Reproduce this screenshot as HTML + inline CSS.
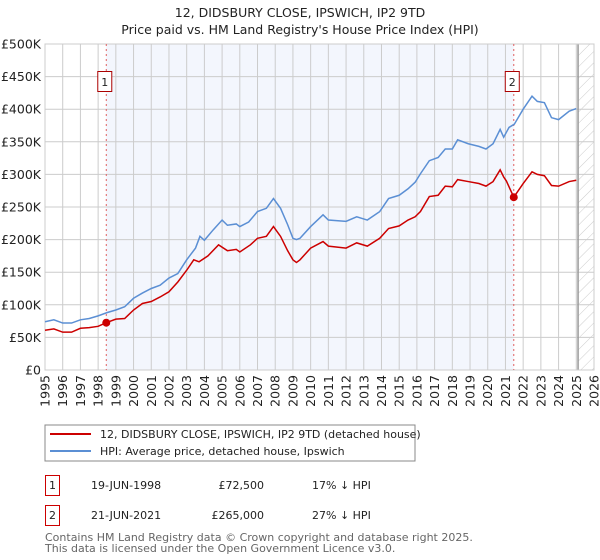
<!DOCTYPE html>
<html><head><meta charset="utf-8"><style>
body{margin:0;background:#fff;}
svg{display:block;font-family:"DejaVu Sans","Liberation Sans",sans-serif;}
</style></head><body>
<svg id="chart" width="600" height="560" viewBox="0 0 600 560" xmlns="http://www.w3.org/2000/svg">
<defs><pattern id="hatch" width="8" height="8" patternUnits="userSpaceOnUse" patternTransform="rotate(45)"><line x1="0" y1="0" x2="0" y2="8" stroke="#ccc" stroke-width="1"/></pattern></defs>
<text x="300" y="17" text-anchor="middle" font-size="12.5" fill="#222">12, DIDSBURY CLOSE, IPSWICH, IP2 9TD</text>
<text x="300" y="34" text-anchor="middle" font-size="12.5" fill="#222">Price paid vs. HM Land Registry's House Price Index (HPI)</text>
<g id="plot"></g>
<g>
<rect x="45" y="425" width="370" height="36" fill="#fff" stroke="#888"/>
<line x1="50" y1="434" x2="91" y2="434" stroke="#cc0000" stroke-width="2"/>
<text x="100" y="438" font-size="11" fill="#222">12, DIDSBURY CLOSE, IPSWICH, IP2 9TD (detached house)</text>
<line x1="50" y1="451" x2="91" y2="451" stroke="#5b8fd4" stroke-width="2"/>
<text x="100" y="455" font-size="11" fill="#222">HPI: Average price, detached house, Ipswich</text>
</g>
<g font-size="11" fill="#222">
<rect x="45.5" y="475.5" width="14" height="20" fill="#fff" stroke="#cc0000"/>
<text x="52.5" y="489" text-anchor="middle">1</text>
<text x="91" y="489">19-JUN-1998</text>
<text x="264" y="489" text-anchor="end">£72,500</text>
<text x="312" y="489">17% ↓ HPI</text>
<rect x="45.5" y="505.5" width="14" height="20" fill="#fff" stroke="#cc0000"/>
<text x="52.5" y="519" text-anchor="middle">2</text>
<text x="91" y="519">21-JUN-2021</text>
<text x="264" y="519" text-anchor="end">£265,000</text>
<text x="312" y="519">27% ↓ HPI</text>
</g>
<text x="45" y="541" font-size="11" fill="#666">Contains HM Land Registry data © Crown copyright and database right 2025.</text>
<text x="45" y="552" font-size="11" fill="#666">This data is licensed under the Open Government Licence v3.0.</text>
</svg>
<script>
const hpiYears=[1995,1995.5,1996,1996.5,1997,1997.5,1998,1998.5,1999,1999.5,2000,2000.5,2001,2001.5,2002,2002.5,2003,2003.5,2003.75,2004,2004.5,2005,2005.3,2005.8,2006,2006.5,2007,2007.5,2007.9,2008.3,2008.7,2009,2009.2,2009.4,2010,2010.7,2011,2012,2012.6,2013.2,2013.9,2014.4,2015,2015.5,2015.9,2016.2,2016.7,2017.2,2017.6,2018,2018.3,2018.9,2019.5,2019.9,2020.3,2020.7,2020.9,2021.2,2021.5,2022,2022.5,2022.8,2023.2,2023.6,2024,2024.6,2025];
const hpiValues=[74,77,72,72,77,79,83,88,92,97,110,118,125,130,141,148,169,187,205,199,215,230,222,224,220,227,243,248,263,248,223,202,200,202,220,238,230,228,235,230,243,263,268,278,288,301,321,326,339,339,353,347,343,339,347,369,357,372,377,400,420,412,410,387,384,397,401];
const propYears=[1995,1995.5,1996,1996.5,1997,1997.5,1998,1998.46,1999,1999.5,2000,2000.5,2001,2001.5,2002,2002.5,2003,2003.4,2003.7,2004.2,2004.8,2005.3,2005.8,2006,2006.6,2007,2007.5,2007.9,2008.3,2008.7,2009,2009.2,2009.4,2010,2010.7,2011,2012,2012.6,2013.2,2013.9,2014.4,2015,2015.5,2015.9,2016.2,2016.7,2017.2,2017.6,2018,2018.3,2018.9,2019.5,2019.9,2020.3,2020.7,2020.9,2021.05,2021.47,2022,2022.5,2022.8,2023.2,2023.6,2024,2024.6,2025];
const propValues=[61,63,58,58,64,65,67,72.5,78,79,92,102,105,112,120,135,153,169,166,175,192,183,185,181,192,202,205,220,205,183,169,165,169,187,197,190,187,195,190,202,217,221,230,235,243,266,268,282,281,292,289,286,282,289,307,296,290,265,286,304,300,298,283,282,289,291];
const saleYears=[1998.46,2021.47];
const saleValues=[72.5,265];
const saleLabels=["1","2"];
const yTicks=[0,50,100,150,200,250,300,350,400,450,500];
const yTickLabels=["£0","£50K","£100K","£150K","£200K","£250K","£300K","£350K","£400K","£450K","£500K"];
const xTicks=[1995,1996,1997,1998,1999,2000,2001,2002,2003,2004,2005,2006,2007,2008,2009,2010,2011,2012,2013,2014,2015,2016,2017,2018,2019,2020,2021,2022,2023,2024,2025,2026];

const X0=45,X1=594,Y0=370,Y1=44;
const xs=y=>X0+(y-1995)/(2026-1995)*(X1-X0);
const ys=v=>Y0-v/500*(Y0-Y1);
const NS="http://www.w3.org/2000/svg";
const g=document.getElementById('plot');
function mk(t,a){const e=document.createElementNS(NS,t);for(const k in a)e.setAttribute(k,a[k]);g.appendChild(e);return e;}
const shade=mk('rect',{x:xs(saleYears[0]),y:Y1,width:xs(saleYears[1])-xs(saleYears[0]),height:Y0-Y1,fill:'#f3f6fd'});


const hat=mk('rect',{x:xs(2025.1),y:Y1,width:X1-xs(2025.1),height:Y0-Y1,fill:'url(#hatch)'});


yTicks.forEach((v,i)=>{
 const l=mk('line',{x1:X0,x2:X1,y1:ys(v),y2:ys(v),stroke:'#ccc','stroke-width':1});
 
 
 const t=mk('text',{x:X0-4,y:ys(v)+4.5,'text-anchor':'end','font-size':12.5,fill:'#222'});
 t.textContent=yTickLabels[i];
 
 
});
xTicks.forEach(yr=>{
 const l=mk('line',{x1:xs(yr),x2:xs(yr),y1:Y1,y2:Y0,stroke:'#ccc','stroke-width':1});
 
 
 const t=mk('text',{x:0,y:0,'text-anchor':'end','font-size':12.5,fill:'#222',transform:`translate(${xs(yr)+4.5},${Y0+5}) rotate(-90)`});
 t.textContent=yr;
 
 
});
const fl=mk('line',{x1:xs(2025.1),x2:xs(2025.1),y1:Y1,y2:Y0,stroke:'#999','stroke-width':1.5});


const fr=mk('rect',{x:X0,y:Y1,width:X1-X0,height:Y0-Y1,fill:'none',stroke:'#ccc'});


saleYears.forEach((yr,i)=>{
 const l=mk('line',{x1:xs(yr),x2:xs(yr),y1:Y1,y2:Y0,stroke:'#e06060','stroke-width':1,'stroke-dasharray':'2,3'});
 
 
});
const hp=mk('polyline',{points:hpiYears.map((y,i)=>xs(y)+','+ys(hpiValues[i])).join(' '),fill:'none',stroke:'#5b8fd4','stroke-width':1.5});


const pp=mk('polyline',{points:propYears.map((y,i)=>xs(y)+','+ys(propValues[i])).join(' '),fill:'none',stroke:'#cc0000','stroke-width':1.5});


saleYears.forEach((yr,i)=>{
 const c=mk('circle',{cx:xs(yr),cy:ys(saleValues[i]),r:4,fill:'#cc0000'});
 
 
 const bx=xs(yr)-8;
 const r=mk('rect',{x:bx-0.5,y:71.5,width:14,height:20,fill:'#fff',stroke:'#aa0000'});
 
 
 const t=mk('text',{x:bx+6.5,y:86,'text-anchor':'middle','font-size':11,fill:'#222'});
 t.textContent=saleLabels[i];
 
 
});
</script>
</body></html>
